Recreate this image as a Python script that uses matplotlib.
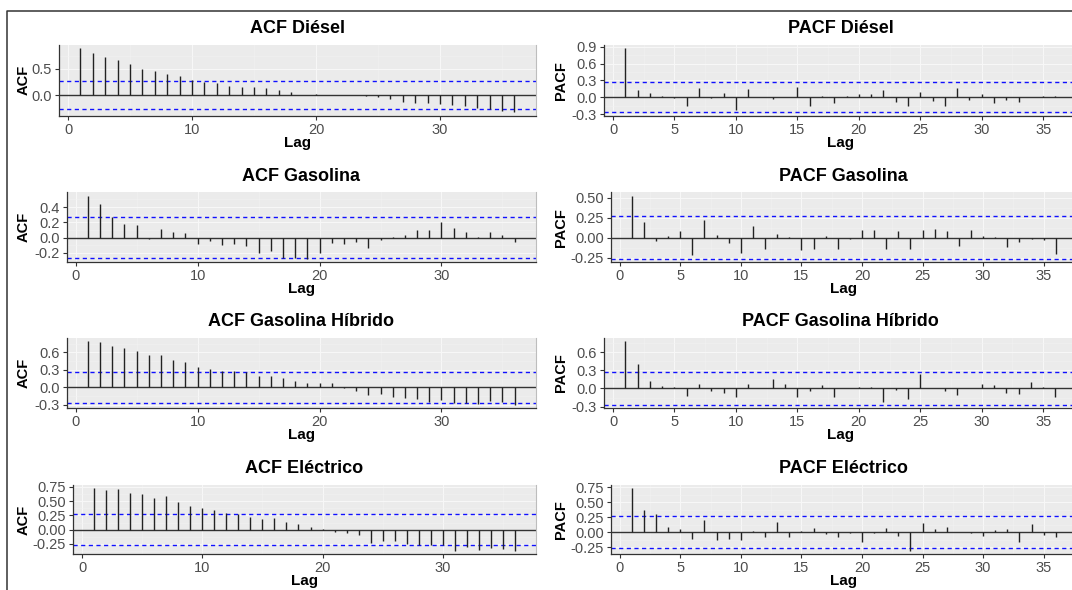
import matplotlib as mpl
import matplotlib.pyplot as plt
import numpy as np
from matplotlib.lines import Line2D
from matplotlib.ticker import FixedLocator, MultipleLocator

mpl.rcParams["font.family"] = ["Liberation Sans", "DejaVu Sans"]

W, H = 1072, 590
CI = 0.27
LAGS = np.arange(1, 37)

acf_diesel = [0.90, 0.80, 0.73, 0.66, 0.60, 0.49, 0.45, 0.40, 0.36, 0.28, 0.25, 0.23,
              0.18, 0.15, 0.15, 0.13, 0.10, 0.06, 0.005, 0.02, 0.004, 0.003, -0.004, -0.02,
              -0.03, -0.08, -0.13, -0.15, -0.16, -0.17, -0.18, -0.21, -0.24, -0.27, -0.30, -0.33]
pacf_diesel = [0.88, 0.12, 0.08, 0.03, -0.02, -0.165, 0.16, -0.01, 0.08, -0.23, 0.15, 0.004,
               -0.04, -0.004, 0.18, -0.15, 0.03, -0.11, 0.03, 0.05, 0.05, 0.12, -0.08, -0.165,
               0.09, -0.07, -0.15, 0.165, -0.05, 0.06, -0.10, -0.05, -0.08, 0.004, 0.03, 0.03]
acf_gasolina = [0.55, 0.44, 0.27, 0.18, 0.17, -0.02, 0.11, 0.08, 0.06, -0.08, -0.04, -0.10,
                -0.08, -0.11, -0.20, -0.17, -0.27, -0.27, -0.28, -0.20, -0.07, -0.08, -0.06, -0.13,
                -0.03, 0.004, 0.03, 0.095, 0.095, 0.20, 0.13, 0.07, 0.004, 0.07, 0.04, -0.06]
pacf_gasolina = [0.53, 0.20, -0.04, 0.02, 0.08, -0.215, 0.225, 0.035, -0.07, -0.19, 0.145, -0.145,
                 0.045, 0.004, -0.16, -0.14, 0.025, -0.145, -0.02, 0.095, 0.10, -0.145, 0.08, -0.145,
                 0.10, 0.11, 0.08, -0.11, 0.10, 0.025, 0.004, -0.12, -0.05, -0.015, -0.03, -0.21]
acf_hibrido = [0.79, 0.77, 0.71, 0.67, 0.63, 0.55, 0.55, 0.47, 0.43, 0.34, 0.32, 0.28,
               0.275, 0.26, 0.20, 0.19, 0.16, 0.11, 0.08, 0.07, 0.07, -0.02, -0.07, -0.14,
               -0.11, -0.16, -0.19, -0.20, -0.26, -0.22, -0.27, -0.27, -0.29, -0.23, -0.26, -0.30]
pacf_hibrido = [0.78, 0.40, 0.125, 0.04, 0.02, -0.12, 0.08, -0.04, -0.07, -0.14, 0.08, 0.004,
                0.15, 0.08, -0.14, -0.05, 0.065, -0.14, 0.004, 0.02, 0.02, -0.22, -0.02, -0.17,
                0.235, 0.004, -0.035, -0.10, 0.004, 0.08, 0.05, -0.075, -0.09, 0.10, 0.03, -0.14]
acf_electrico = [0.73, 0.69, 0.71, 0.65, 0.62, 0.55, 0.59, 0.49, 0.42, 0.38, 0.35, 0.29,
                 0.27, 0.23, 0.19, 0.20, 0.13, 0.10, 0.055, 0.004, -0.04, -0.05, -0.085, -0.23,
                 -0.19, -0.20, -0.25, -0.26, -0.26, -0.26, -0.37, -0.31, -0.35, -0.32, -0.33, -0.37]
pacf_electrico = [0.74, 0.38, 0.31, 0.085, 0.05, -0.11, 0.21, -0.135, -0.11, -0.125, 0.02, -0.08,
                  0.165, -0.08, 0.02, 0.07, -0.035, -0.08, -0.02, -0.17, -0.015, 0.07, -0.07, -0.31,
                  0.15, 0.05, 0.08, 0.004, -0.02, -0.07, 0.04, 0.05, -0.165, 0.13, -0.04, -0.08]

titles = ["ACF Diésel", "PACF Diésel", "ACF Gasolina", "PACF Gasolina",
          "ACF Gasolina Híbrido", "PACF Gasolina Híbrido", "ACF Eléctrico", "PACF Eléctrico"]
series = [acf_diesel, pacf_diesel, acf_gasolina, pacf_gasolina,
          acf_hibrido, pacf_hibrido, acf_electrico, pacf_electrico]
ylabels = ["ACF", "PACF"] * 4
yticks = [
    ([0.0, 0.5], "{:.1f}"), ([-0.3, 0.0, 0.3, 0.6, 0.9], "{:.1f}"),
    ([-0.2, 0.0, 0.2, 0.4], "{:.1f}"), ([-0.25, 0.0, 0.25, 0.5], "{:.2f}"),
    ([-0.3, 0.0, 0.3, 0.6], "{:.1f}"), ([-0.3, 0.0, 0.3, 0.6], "{:.1f}"),
    ([-0.25, 0.0, 0.25, 0.5, 0.75], "{:.2f}"), ([-0.25, 0.0, 0.25, 0.5, 0.75], "{:.2f}"),
]

# panel boxes in pixels (x0, x1, y_top, y_bottom)
row_y = [(44.6, 115.6), (192.4, 262.3), (338, 408), (484.8, 554)]
left_x0 = [58.8, 66.5, 66.5, 73]
right_x0 = [603.8, 610.6, 603.8, 610.6]
LEFT_X1, RIGHT_X1 = 536, 1077
YLAB_X = [23.5, 560.5]

fig = plt.figure(figsize=(W / 100, H / 100), dpi=100)

for i, (title, vals) in enumerate(zip(titles, series)):
    row, col = divmod(i, 2)
    y0, y1 = row_y[row]
    x0 = left_x0[row] if col == 0 else right_x0[row]
    x1 = LEFT_X1 if col == 0 else RIGHT_X1
    ax = fig.add_axes([x0 / W, 1 - y1 / H, (x1 - x0) / W, (y1 - y0) / H])
    ax.set_facecolor("#EBEBEB")

    vals = np.array(vals)
    ax.vlines(LAGS, 0, vals, color="#222222", lw=1.0, zorder=3)
    ax.axhline(0, color="#333333", lw=1.0, zorder=2)
    for c in (CI, -CI):
        ax.axhline(c, color="#1010FF", lw=1.0, ls=(0, (3, 2.5)), zorder=2)

    lo = min(vals.min(), -CI)
    hi = max(vals.max(), CI)
    pad = 0.05 * (hi - lo)
    ax.set_ylim(lo - pad, hi + pad)
    ax.set_xlim(-0.75, 37.75)

    ticks, fmt = yticks[i]
    ax.yaxis.set_major_locator(FixedLocator(ticks))
    ax.set_yticklabels([fmt.format(t) for t in ticks])
    step = ticks[1] - ticks[0]
    ax.yaxis.set_minor_locator(MultipleLocator(step / 2))
    if col == 0:
        ax.xaxis.set_major_locator(FixedLocator([0, 10, 20, 30]))
        ax.xaxis.set_minor_locator(FixedLocator([5, 15, 25, 35]))
    else:
        ax.xaxis.set_major_locator(FixedLocator([0, 5, 10, 15, 20, 25, 30, 35]))
        ax.xaxis.set_minor_locator(FixedLocator(np.arange(2.5, 38, 5)))
    ax.grid(which="major", color="#F7F7F7", lw=0.8, zorder=0)
    ax.grid(which="minor", color="#F2F2F2", lw=0.4, zorder=0)
    ax.set_axisbelow(True)

    ax.tick_params(which="major", length=3, width=0.8, color="#333333",
                   labelsize=10.5, labelcolor="#4D4D4D", pad=2)
    ax.tick_params(which="minor", length=0)
    for s in ("left", "bottom"):
        ax.spines[s].set_color("#333333")
        ax.spines[s].set_linewidth(0.9)
    ax.spines["top"].set_visible(False)
    ax.spines["right"].set_color("#BDBDBD")

    ax.set_title(title, fontsize=13, fontweight="bold", pad=8.5)
    ax.set_xlabel("Lag", fontsize=11, fontweight="bold")
    ax.xaxis.set_label_coords(0.5, -27 / (y1 - y0))
    ax.xaxis.label.set_va("center")
    ax.set_ylabel(ylabels[i], fontsize=10.5, fontweight="bold")
    ax.yaxis.set_label_coords((YLAB_X[col] - x0) / (x1 - x0), 0.5)
    ax.yaxis.label.set_va("center")

# outer frame of the screenshot
fig.add_artist(Line2D([7 / W, 7 / W, 1], [0, 1 - 11 / H, 1 - 11 / H],
                      transform=fig.transFigure, color="#333333", lw=1.1))

fig.savefig("out.png", dpi=100)
